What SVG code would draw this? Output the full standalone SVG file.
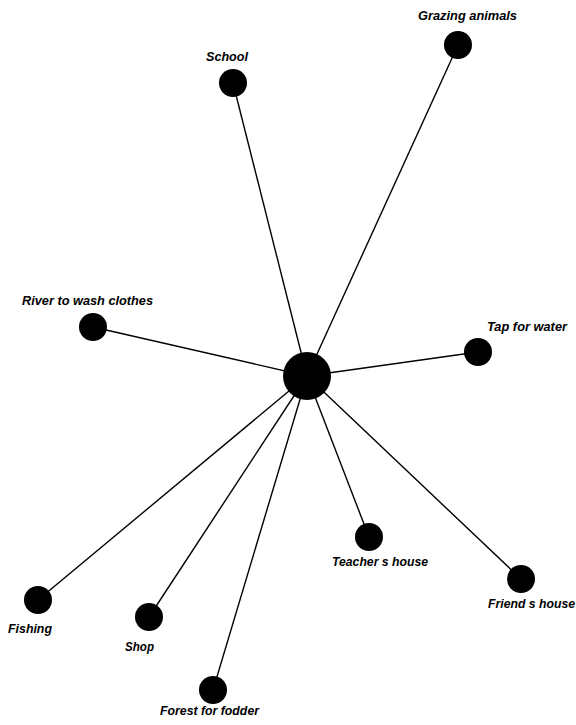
<svg xmlns="http://www.w3.org/2000/svg" width="576" height="725" viewBox="0 0 576 725">
<style>
.e{stroke:#000;stroke-width:1.4;fill:none}
.n{fill:#000}
.t{font-family:"Liberation Sans",Arial,sans-serif;font-style:italic;font-weight:bold;font-size:12.5px;fill:#000}
</style>
<rect width="576" height="725" fill="#fff"/>
<g id="connectors">
<line class="e" x1="307" y1="376" x2="233" y2="83"/>
<line class="e" x1="307" y1="376" x2="458" y2="45"/>
<line class="e" x1="307" y1="376" x2="93" y2="327"/>
<line class="e" x1="307" y1="376" x2="478" y2="352"/>
<line class="e" x1="307" y1="376" x2="369" y2="537"/>
<line class="e" x1="307" y1="376" x2="521" y2="579"/>
<line class="e" x1="307" y1="376" x2="38" y2="600"/>
<line class="e" x1="307" y1="376" x2="149" y2="617"/>
<line class="e" x1="307" y1="376" x2="213" y2="690"/>
</g>
<g id="center"><circle class="n" cx="307" cy="376" r="24"/></g>
<g id="school"><circle class="n" cx="233" cy="83" r="14"/><text class="t" x="206" y="61" textLength="42" lengthAdjust="spacingAndGlyphs">School</text></g>
<g id="grazing"><circle class="n" cx="458" cy="45" r="14"/><text class="t" x="418" y="20" textLength="99" lengthAdjust="spacingAndGlyphs">Grazing animals</text></g>
<g id="river"><circle class="n" cx="93" cy="327" r="14"/><text class="t" x="22" y="305" textLength="131" lengthAdjust="spacingAndGlyphs">River to wash clothes</text></g>
<g id="tap"><circle class="n" cx="478" cy="352" r="14"/><text class="t" x="487" y="331" textLength="80" lengthAdjust="spacingAndGlyphs">Tap for water</text></g>
<g id="teacher"><circle class="n" cx="369" cy="537" r="14"/><text class="t" x="332" y="566" textLength="96" lengthAdjust="spacingAndGlyphs">Teacher s house</text></g>
<g id="friend"><circle class="n" cx="521" cy="579" r="14"/><text class="t" x="488" y="608" textLength="87" lengthAdjust="spacingAndGlyphs">Friend s house</text></g>
<g id="fishing"><circle class="n" cx="38" cy="600" r="14"/><text class="t" x="8" y="633" textLength="44" lengthAdjust="spacingAndGlyphs">Fishing</text></g>
<g id="shop"><circle class="n" cx="149" cy="617" r="14"/><text class="t" x="125" y="651" textLength="29" lengthAdjust="spacingAndGlyphs">Shop</text></g>
<g id="forest"><circle class="n" cx="213" cy="690" r="14"/><text class="t" x="160" y="715" textLength="99" lengthAdjust="spacingAndGlyphs">Forest for fodder</text></g>
</svg>
